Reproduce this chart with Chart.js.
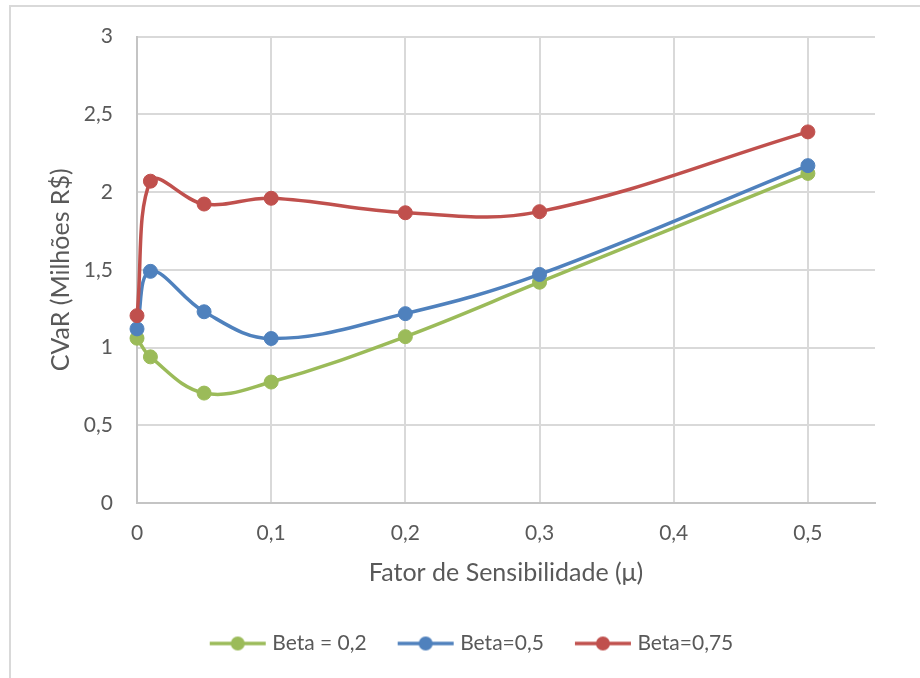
<!DOCTYPE html>
<html>
<head>
<meta charset="utf-8">
<script src="https://cdn.jsdelivr.net/npm/chart.js@4/dist/chart.umd.min.js"></script>
<style>
  html, body { margin: 0; padding: 0; background: #ffffff; overflow: hidden; }
  #wrap { position: relative; width: 920px; height: 678px; overflow: hidden; }
  #frame { position: absolute; left: 9px; top: 5px; width: 2000px; height: 2000px;
           border: 2px solid #d9d9d9; box-sizing: border-box; }
  #cv { position: absolute; left: 0; top: 0; }
</style>
</head>
<body>
<div id="wrap">
  <div id="frame"></div>
  <canvas id="cv" width="920" height="678"></canvas>
</div>
<script>
// Sensitivity factor (μ) on the horizontal axis
const mu = [0, 0.01, 0.05, 0.1, 0.2, 0.3, 0.5];

// CVaR (millions of R$) for each beta
const beta02 = [1.06, 0.94, 0.707, 0.778, 1.07, 1.42, 2.12];
const beta05 = [1.12, 1.49, 1.23, 1.058, 1.218, 1.47, 2.17];
const beta075 = [1.205, 2.07, 1.923, 1.96, 1.867, 1.874, 2.387];

const seriesNames = ['Beta = 0,2', 'Beta=0,5', 'Beta=0,75'];
const seriesColors = ['#9BBB59', '#4F81BD', '#C0504D'];

const xTicks = [0, 0.1, 0.2, 0.3, 0.4, 0.5];
const yTicks = [0, 0.5, 1, 1.5, 2, 2.5, 3];

const xTitle = 'Fator de Sensibilidade (μ)';
const yTitle = 'CVaR (Milhões R$)';

const FONT = 'Lato, "Noto Sans", sans-serif';
const TEXT = '#595959';

const fmt = v => String(Math.round(v * 100) / 100).replace('.', ',');

function legendSwatch(color) {
  const c = document.createElement('canvas');
  c.width = 58; c.height = 16;
  const g = c.getContext('2d');
  g.strokeStyle = color;
  g.lineWidth = 3.5;
  g.beginPath(); g.moveTo(1, 8); g.lineTo(57, 8); g.stroke();
  g.fillStyle = color;
  g.beginPath(); g.arc(29, 8, 7, 0, Math.PI * 2); g.fill();
  return c;
}

const allSeries = [beta02, beta05, beta075];
const datasets = allSeries.map((vals, i) => ({
  label: seriesNames[i],
  data: mu.map((x, k) => ({ x, y: vals[k] })),
  borderColor: seriesColors[i],
  backgroundColor: seriesColors[i],
  pointBackgroundColor: seriesColors[i],
  pointBorderColor: seriesColors[i],
  borderWidth: 3.5,
  pointRadius: 7,
  pointBorderWidth: 1,
  tension: 0.38,
  clip: false,
  order: 3 - i
}));

new Chart(document.getElementById('cv'), {
  type: 'line',
  data: { datasets },
  options: {
    responsive: false,
    animation: false,
    events: [],
    layout: { padding: { left: 72, right: 45, top: 35, bottom: 14 } },
    plugins: {
      tooltip: { enabled: false },
      legend: {
        position: 'bottom',
        labels: {
          usePointStyle: true,
          pointStyleWidth: 48,
          padding: 35,
          color: TEXT,
          font: { family: FONT, size: 21 },
          generateLabels: chart => chart.data.datasets.map((ds, i) => ({
            text: ds.label,
            fillStyle: ds.borderColor,
            strokeStyle: ds.borderColor,
            fontColor: TEXT,
            lineWidth: 0,
            pointStyle: legendSwatch(ds.borderColor),
            hidden: false,
            datasetIndex: i
          }))
        }
      }
    },
    scales: {
      x: {
        type: 'linear',
        min: 0,
        max: 0.55,
        afterFit: s => { s.height = 95; },
        afterBuildTicks: s => { s.ticks = xTicks.map(v => ({ value: v })); },
        ticks: { includeBounds: false, padding: 18, color: TEXT,
                 font: { family: FONT, size: 21 }, callback: v => fmt(v) },
        grid: { color: '#d9d9d9', lineWidth: 2, drawTicks: false },
        border: { color: '#c4c4c4', width: 2 },
        title: { display: true, text: xTitle, color: TEXT,
                 font: { family: FONT, size: 25 }, padding: { top: 0, bottom: 10 } }
      },
      y: {
        min: 0,
        max: 3,
        afterFit: s => { s.width = 65; },
        afterBuildTicks: s => { s.ticks = yTicks.map(v => ({ value: v })); },
        ticks: { padding: 24, color: TEXT, font: { family: FONT, size: 21 },
                 callback: v => fmt(v) },
        grid: { color: '#d9d9d9', lineWidth: 2, drawTicks: false },
        border: { color: '#c4c4c4', width: 2 },
        title: { display: true, text: yTitle, color: TEXT,
                 font: { family: FONT, size: 25 }, padding: { top: -26, bottom: 0 } }
      }
    }
  }
});
</script>
</body>
</html>
